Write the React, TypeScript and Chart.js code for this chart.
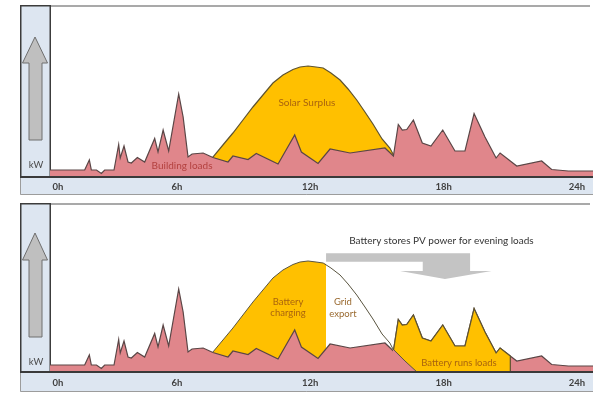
import { useEffect, useRef } from "react";
import { Chart, registerables } from "chart.js";

Chart.register(...registerables);

// Hour-of-day axis
const tickHours = [0, 6, 12, 18, 24];
const tickLabels = ["0h", "6h", "12h", "18h", "24h"];

// Building load profile (kW)
const loadHours = [
  0.29, 1.85, 2.06, 2.15, 2.38, 2.6, 2.75, 3.17, 3.38, 3.45,
  3.62, 3.8, 3.95, 4.22, 4.55, 5.0, 5.15, 5.38, 5.63, 6.08,
  6.28, 6.5, 6.68, 7.18, 7.62, 8.3, 8.52, 9.2, 9.57, 10.55,
  11.3, 11.6, 12.35, 12.89, 13.79, 15.36, 15.74, 15.96, 16.14, 16.34,
  16.64, 17.04, 17.43, 17.96, 18.51, 18.96, 19.37, 19.86, 20.36, 20.54,
  21.29, 22.41, 22.86, 23.61, 24.72,
];
const loadKw = [
  7, 7, 17, 7, 7, 3.5, 7, 7, 32.5, 19,
  31, 15, 14, 19.5, 15, 38.5, 25, 47, 26, 83,
  60, 20, 23, 24, 19.5, 15, 21, 17.5, 23.5, 13,
  42, 25, 13.5, 28, 24, 29, 21, 52.5, 47, 47.5,
  57, 34, 31, 47, 26, 26, 63.5, 40, 19, 24,
  11, 16, 7.5, 6, 6,
];

// Solar PV generation (kW)
const solarHours = [
  7.0, 7.31, 7.62, 8.07, 8.52, 8.97, 9.42, 9.87, 10.32, 10.77,
  11.22, 11.54, 11.9, 12.26, 12.58, 12.93, 13.34, 13.7, 14.09, 14.46,
  14.82, 15.23, 15.58, 15.72, 16.26, 16.8,
];
const solarKw = [
  0, 8, 20, 32, 44, 57, 70, 82, 94, 102,
  107.5, 110, 111, 110, 109, 104, 97, 88, 77, 65,
  53, 38, 29, 23, 11, 0,
];

// Battery schedule
const chargeCutHour = 12.71;
const chargeCutKw = 108;
const dischargeStartHour = 15.74;
const dischargeEndHour = 21.0;
const dischargeEndKw = 16;

const X_MIN = 0.29;
const X_MAX = 24.72;

const FONT = "Lato, 'Open Sans', sans-serif";
const PINK = "#e0868b";
const YELLOW = "#ffc000";
const LOAD_EDGE = "#5a4646";
const SOLAR_EDGE = "#5e5330";
const PANEL_BLUE = "#dde6f1";

type Pt = { x: number; y: number };
const toPts = (xs: number[], ys: number[]): Pt[] => xs.map((x, i) => ({ x, y: ys[i] }));

interface TextMark {
  text: string;
  hour: number;
  kw: number;
  color: string;
  size: number;
}

interface DecorCfg {
  bandH: number;
  tickY: number;
  arrowTip: number;
  arrowBase: number;
  arrowEnd: number;
  kwY: number;
  labels: TextMark[];
  pvArrow: boolean;
}

function panelDecor(cfg: DecorCfg) {
  return {
    id: "panelDecor",
    beforeDraw(chart: any) {
      const { ctx, chartArea: a, scales } = chart;
      const xs = scales.x;
      ctx.save();
      ctx.fillStyle = "#ffffff";
      ctx.fillRect(0, 0, chart.width, chart.height);

      // hour band under the plot
      ctx.fillStyle = PANEL_BLUE;
      ctx.fillRect(20, a.bottom, chart.width - 20, cfg.bandH);
      ctx.strokeStyle = "#9c9c9c";
      ctx.lineWidth = 1;
      ctx.beginPath();
      ctx.moveTo(20.5, a.bottom);
      ctx.lineTo(20.5, a.bottom + cfg.bandH - 0.5);
      ctx.lineTo(chart.width, a.bottom + cfg.bandH - 0.5);
      ctx.stroke();

      // frame top edge
      ctx.strokeStyle = "#a9a9a9";
      ctx.lineWidth = 2;
      ctx.beginPath();
      ctx.moveTo(50, a.top + 1);
      ctx.lineTo(590, a.top + 1);
      ctx.stroke();

      // kW side box
      ctx.fillStyle = PANEL_BLUE;
      ctx.fillRect(20, a.top, 30, a.bottom - a.top);
      ctx.strokeStyle = "#3c3c3c";
      ctx.lineWidth = 1.5;
      ctx.strokeRect(20.75, a.top + 0.75, 29.5, a.bottom - a.top - 0.75);

      // upward arrow
      const t = a.top;
      ctx.beginPath();
      ctx.moveTo(35, t + cfg.arrowTip);
      ctx.lineTo(47.5, t + cfg.arrowBase);
      ctx.lineTo(42, t + cfg.arrowBase);
      ctx.lineTo(42, t + cfg.arrowEnd);
      ctx.lineTo(29, t + cfg.arrowEnd);
      ctx.lineTo(29, t + cfg.arrowBase);
      ctx.lineTo(22.5, t + cfg.arrowBase);
      ctx.closePath();
      ctx.fillStyle = "#bfbfbf";
      ctx.fill();
      ctx.strokeStyle = "#6e6e6e";
      ctx.lineWidth = 1;
      ctx.stroke();

      ctx.fillStyle = "#4a4a4a";
      ctx.font = `9.5px ${FONT}`;
      ctx.textAlign = "center";
      ctx.textBaseline = "middle";
      ctx.fillText("kW", 36, a.bottom - cfg.kwY);

      // hour labels
      ctx.fillStyle = "#3f3f3f";
      ctx.font = `bold 9.5px ${FONT}`;
      tickHours.forEach((h, i) => {
        const px = Math.max(xs.getPixelForValue(h), a.left + 8);
        ctx.fillText(tickLabels[i], px, a.bottom + cfg.tickY);
      });
      ctx.restore();
    },
    afterDatasetsDraw(chart: any) {
      const { ctx, chartArea: a, scales } = chart;
      const xs = scales.x;
      const ys = scales.y;
      ctx.save();

      // baseline
      ctx.strokeStyle = "#3a3a3a";
      ctx.lineWidth = 2;
      ctx.beginPath();
      ctx.moveTo(20, a.bottom);
      ctx.lineTo(chart.width, a.bottom);
      ctx.stroke();

      if (cfg.pvArrow) {
        const P = (h: number, k: number): [number, number] => [xs.getPixelForValue(h), ys.getPixelForValue(k)];
        const shape: [number, number][] = [
          P(12.71, 118.7), P(19.19, 118.7), P(19.19, 101), P(20.16, 101),
          P(18.06, 93), P(16.04, 101), P(17.06, 101), P(17.06, 110.3), P(12.71, 110.3),
        ];
        ctx.beginPath();
        shape.forEach(([px, py], i) => (i ? ctx.lineTo(px, py) : ctx.moveTo(px, py)));
        ctx.closePath();
        ctx.fillStyle = "#c4c4c4";
        ctx.fill();
      }

      ctx.textAlign = "center";
      ctx.textBaseline = "middle";
      cfg.labels.forEach((m) => {
        ctx.font = `${m.size}px ${FONT}`;
        ctx.fillStyle = m.color;
        ctx.fillText(m.text, xs.getPixelForValue(m.hour), ys.getPixelForValue(m.kw));
      });
      ctx.restore();
    },
  };
}

function baseOptions(yMax: number, pad: { top: number; bottom: number }) {
  return {
    responsive: false,
    animation: false as const,
    layout: { padding: { left: 50, right: 0, top: pad.top, bottom: pad.bottom } },
    plugins: { legend: { display: false }, tooltip: { enabled: false } },
    elements: { point: { radius: 0 }, line: { tension: 0 } },
    scales: {
      x: { type: "linear" as const, min: X_MIN, max: X_MAX, display: false },
      y: { type: "linear" as const, min: 0, max: yMax, display: false },
    },
  };
}

export default function App() {
  const topRef = useRef<HTMLCanvasElement>(null);
  const botRef = useRef<HTMLCanvasElement>(null);

  useEffect(() => {
    const loadPts = toPts(loadHours, loadKw);
    const solarPts = toPts(solarHours, solarKw);
    const amber = "#a9640e";

    const top = new Chart(topRef.current!, {
      type: "line",
      data: {
        datasets: [
          {
            label: "Building loads",
            data: loadPts,
            borderColor: LOAD_EDGE,
            borderWidth: 1.2,
            backgroundColor: PINK,
            fill: "origin",
            order: 1,
          },
          {
            label: "Solar Surplus",
            data: solarPts,
            borderColor: SOLAR_EDGE,
            borderWidth: 1.2,
            backgroundColor: YELLOW,
            fill: "origin",
            order: 2,
          },
        ],
      },
      options: baseOptions(172, { top: 5, bottom: 22 }) as any,
      plugins: [
        panelDecor({
          bandH: 18,
          tickY: 9.5,
          arrowTip: 32,
          arrowBase: 58,
          arrowEnd: 135,
          kwY: 12,
          pvArrow: false,
          labels: [
            { text: "Solar Surplus", hour: 11.85, kw: 74, color: amber, size: 10 },
            { text: "Building loads", hour: 6.23, kw: 11, color: "#b3413f", size: 10 },
          ],
        }),
      ],
    });

    const chargePts = [
      ...solarPts.filter((p) => p.x < chargeCutHour),
      { x: chargeCutHour, y: chargeCutKw },
      { x: chargeCutHour, y: 0 },
    ];
    const dischargePts = [
      ...loadPts.filter((p) => p.x >= dischargeStartHour && p.x < dischargeEndHour),
      { x: dischargeEndHour, y: dischargeEndKw },
      { x: dischargeEndHour, y: 0 },
    ];
    const underPvPts = solarPts.filter((p) => p.x >= 15.7);
    const pvLinePts = solarPts.filter((p) => p.x >= 7.6);

    const bot = new Chart(botRef.current!, {
      type: "line",
      data: {
        datasets: [
          {
            label: "PV output",
            data: pvLinePts,
            borderColor: "#5a5540",
            borderWidth: 1,
            fill: false,
            order: 0,
          },
          {
            label: "Load met by PV",
            data: underPvPts,
            borderWidth: 0,
            backgroundColor: PINK,
            fill: "origin",
            order: 1,
          },
          {
            label: "Battery runs loads",
            data: dischargePts,
            borderColor: SOLAR_EDGE,
            borderWidth: 1.2,
            backgroundColor: YELLOW,
            fill: "origin",
            order: 2,
          },
          {
            label: "Building loads",
            data: loadPts,
            borderColor: LOAD_EDGE,
            borderWidth: 1.2,
            backgroundColor: PINK,
            fill: "origin",
            order: 3,
          },
          {
            label: "Battery charging",
            data: chargePts,
            borderWidth: 0,
            backgroundColor: YELLOW,
            fill: "origin",
            order: 4,
          },
        ],
      },
      options: baseOptions(169, { top: 4, bottom: 21 }) as any,
      plugins: [
        panelDecor({
          bandH: 20,
          tickY: 11,
          arrowTip: 30,
          arrowBase: 57,
          arrowEnd: 134,
          kwY: 10,
          pvArrow: true,
          labels: [
            { text: "Battery", hour: 11.0, kw: 70, color: amber, size: 9.5 },
            { text: "charging", hour: 11.0, kw: 59, color: amber, size: 9.5 },
            { text: "Grid", hour: 13.47, kw: 70, color: "#9a6a30", size: 9.5 },
            { text: "export", hour: 13.47, kw: 58, color: "#9a6a30", size: 9.5 },
            { text: "Battery runs loads", hour: 18.69, kw: 9, color: amber, size: 9.5 },
            { text: "Battery stores PV power for evening loads", hour: 17.9, kw: 131, color: "#333333", size: 10 },
          ],
        }),
      ],
    });

    return () => {
      top.destroy();
      bot.destroy();
    };
  }, []);

  return (
    <div style={{ position: "fixed", left: 0, top: 0, width: 593, height: 393, background: "#fff" }}>
      <canvas ref={topRef} width={593} height={199} style={{ position: "absolute", left: 0, top: 0, width: 593, height: 199 }} />
      <canvas ref={botRef} width={593} height={194} style={{ position: "absolute", left: 0, top: 199, width: 593, height: 194 }} />
    </div>
  );
}
